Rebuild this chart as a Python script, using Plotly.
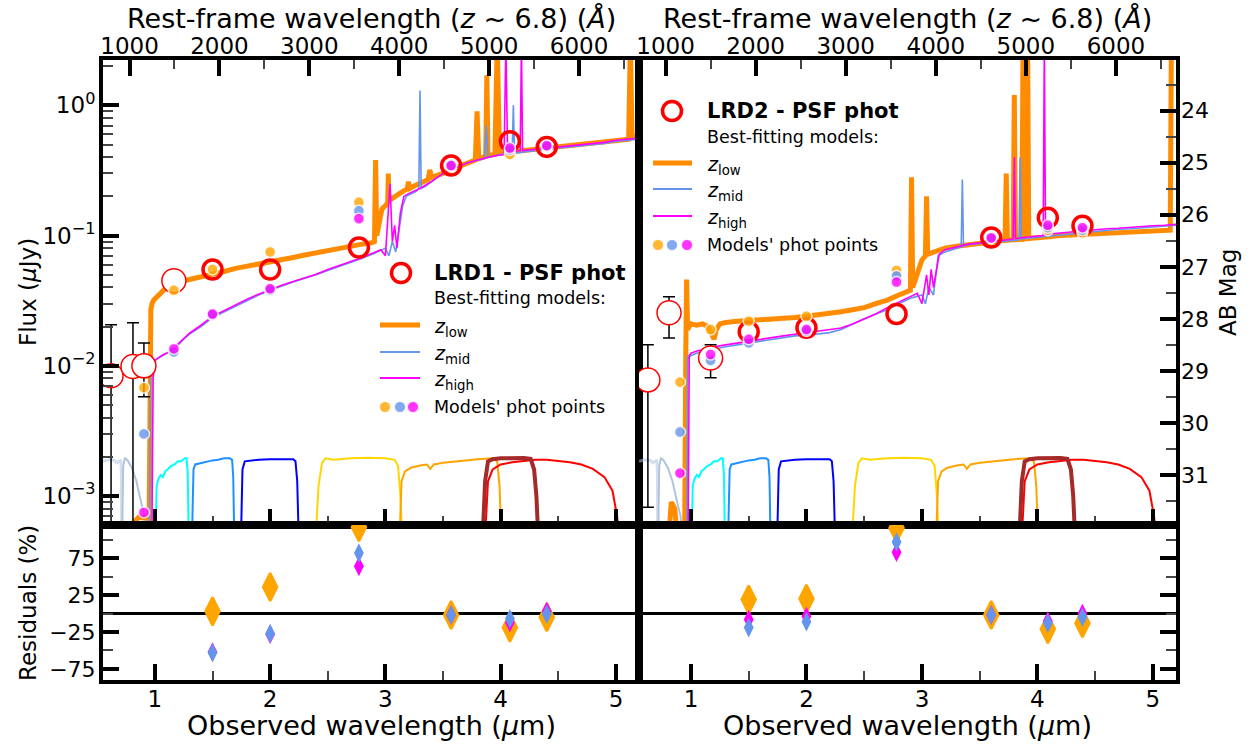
import plotly.graph_objects as go
import math

W, H = 1254, 748
Z_REF = 6.8
FONT = "DejaVu Sans"

# ---------------- data ----------------
# filter curves (same in both panels): wavelength (um), plotted level (uJy)
f070_wl = [0.55, 0.60, 0.65, 0.67, 0.69, 0.705, 0.71, 0.712]
f070_tr = [1.85e-3, 1.9e-3, 1.88e-3, 1.8e-3, 1.85e-3, 1.9e-3, 1.5e-3, 4e-4]
f090_wl = [0.715, 0.725, 0.74, 0.76, 0.80, 0.84, 0.88, 0.91, 0.935]
f090_tr = [4e-4, 1.7e-3, 1.95e-3, 1.9e-3, 1.65e-3, 1.3e-3, 9e-4, 7e-4, 4e-4]
f115_wl = [1.005, 1.015, 1.03, 1.05, 1.07, 1.09, 1.11, 1.14, 1.17, 1.20, 1.23, 1.26, 1.275, 1.285, 1.295]
f115_tr = [4e-4, 1.2e-3, 1.35e-3, 1.45e-3, 1.4e-3, 1.55e-3, 1.6e-3, 1.7e-3, 1.75e-3, 1.85e-3, 1.85e-3, 1.95e-3, 1.95e-3, 1.5e-3, 4e-4]
f150_wl = [1.32, 1.335, 1.35, 1.40, 1.45, 1.50, 1.55, 1.60, 1.65, 1.67, 1.68, 1.69]
f150_tr = [4e-4, 1.6e-3, 1.75e-3, 1.8e-3, 1.85e-3, 1.88e-3, 1.9e-3, 1.95e-3, 1.95e-3, 1.9e-3, 1.4e-3, 4e-4]
f200_wl = [1.745, 1.76, 1.78, 1.82, 1.9, 2.0, 2.1, 2.2, 2.22, 2.235, 2.25]
f200_tr = [4e-4, 1.6e-3, 1.85e-3, 1.87e-3, 1.9e-3, 1.92e-3, 1.93e-3, 1.92e-3, 1.85e-3, 1.3e-3, 4e-4]
f277_wl = [2.39, 2.42, 2.45, 2.48, 2.55, 2.7, 2.85, 3.0, 3.08, 3.11, 3.13, 3.15]
f277_tr = [4e-4, 1.2e-3, 1.8e-3, 1.95e-3, 1.9e-3, 1.95e-3, 1.97e-3, 1.95e-3, 1.9e-3, 1.7e-3, 1e-3, 4e-4]
f356_wl = [3.12, 3.14, 3.17, 3.22, 3.3, 3.36, 3.39, 3.42, 3.5, 3.65, 3.8, 3.93, 3.97, 3.99, 4.01]
f356_tr = [4e-4, 1.3e-3, 1.55e-3, 1.65e-3, 1.72e-3, 1.75e-3, 1.62e-3, 1.75e-3, 1.8e-3, 1.87e-3, 1.92e-3, 1.95e-3, 1.85e-3, 1.2e-3, 4e-4]
f410_wl = [3.84, 3.865, 3.89, 3.93, 4.0, 4.1, 4.2, 4.26, 4.29, 4.31, 4.33]
f410_tr = [4e-4, 1.3e-3, 1.85e-3, 1.92e-3, 1.95e-3, 1.96e-3, 1.96e-3, 1.93e-3, 1.6e-3, 1e-3, 4e-4]
f444_wl = [3.86, 3.89, 3.93, 4.0, 4.1, 4.2, 4.3, 4.4, 4.5, 4.6, 4.7, 4.8, 4.9, 4.97, 5.01, 5.04]
f444_tr = [4e-4, 1.3e-3, 1.6e-3, 1.75e-3, 1.82e-3, 1.87e-3, 1.9e-3, 1.9e-3, 1.87e-3, 1.82e-3, 1.75e-3, 1.62e-3, 1.4e-3, 1.1e-3, 7e-4, 4e-4]

# ---- LRD1 model spectra ----
lo1_wl = [0.82, 0.86, 0.90, 0.93, 0.95, 0.958, 0.965, 0.975, 0.99, 1.02, 1.06, 1.10, 1.15, 1.20, 1.30, 1.40,
          1.50, 1.60, 1.70, 1.80, 1.90, 2.00, 2.10, 2.20, 2.30, 2.40, 2.50, 2.60, 2.70, 2.80, 2.88, 2.905,
          2.915, 2.925, 2.95, 2.97, 3.00, 3.02, 3.025, 3.03, 3.05, 3.08, 3.12, 3.16, 3.19, 3.20, 3.21, 3.25,
          3.30, 3.37, 3.385, 3.40, 3.45, 3.50, 3.60, 3.70, 3.78, 3.795, 3.81, 3.85, 3.87, 3.88, 3.89, 3.95,
          3.97, 3.99, 4.00, 4.10, 4.20, 4.30, 4.40, 4.50, 4.60, 4.70, 4.80, 4.90, 5.00, 5.08, 5.11, 5.125,
          5.14, 5.20]
lo1_f = [6.3e-4, 6.9e-4, 6.8e-4, 6.9e-4, 6.4e-4, 0.015, 0.027, 0.030, 0.032, 0.034, 0.037, 0.040, 0.042,
         0.044, 0.046, 0.048, 0.050, 0.053, 0.056, 0.058, 0.060, 0.062, 0.065, 0.068, 0.071, 0.074, 0.077,
         0.080, 0.083, 0.086, 0.088, 0.09, 0.38, 0.10, 0.13, 0.16, 0.17, 0.18, 0.30, 0.19, 0.19, 0.2, 0.21,
         0.22, 0.23, 0.26, 0.23, 0.24, 0.25, 0.27, 0.32, 0.28, 0.29, 0.30, 0.33, 0.36, 0.38, 0.9, 0.39,
         0.40, 0.41, 1.7, 0.41, 0.42, 3.0, 0.43, 0.43, 0.44, 0.45, 0.46, 0.47, 0.48, 0.49, 0.50, 0.51, 0.52,
         0.53, 0.54, 0.55, 3.0, 0.57, 0.58]
mid1_wl = [0.955, 0.962, 0.968, 0.975, 0.985, 1.00, 1.03, 1.06, 1.10, 1.15, 1.20, 1.25, 1.30, 1.40, 1.50,
           1.60, 1.70, 1.80, 1.90, 2.00, 2.10, 2.20, 2.30, 2.40, 2.50, 2.60, 2.70, 2.80, 2.90, 2.95, 3.00,
           3.03, 3.06, 3.09, 3.12, 3.15, 3.18, 3.22, 3.27, 3.29, 3.30, 3.31, 3.35, 3.40, 3.50, 3.60, 3.70,
           3.80, 3.86, 3.875, 3.89, 3.95, 4.00, 4.10, 4.11, 4.12, 4.20, 4.30, 4.40, 4.50, 4.60, 4.70, 4.80,
           4.90, 5.00, 5.10, 5.20]
mid1_f = [6e-4, 0.012, 0.009, 0.011, 0.0105, 0.011, 0.0115, 0.012, 0.0125, 0.013, 0.0145, 0.016, 0.0175,
          0.0200, 0.0235, 0.026, 0.029, 0.032, 0.035, 0.038, 0.041, 0.044, 0.047, 0.050, 0.054, 0.058, 0.062,
          0.067, 0.073, 0.076, 0.08, 0.07, 0.09, 0.075, 0.11, 0.17, 0.20, 0.21, 0.22, 0.23, 1.3, 0.23, 0.24,
          0.26, 0.30, 0.33, 0.36, 0.38, 0.39, 0.7, 0.40, 0.41, 0.42, 0.43, 1.0, 0.43, 0.44, 0.45, 0.46, 0.47,
          0.48, 0.49, 0.50, 0.51, 0.53, 0.54, 0.55]
hi1_wl = [0.975, 0.985, 1.00, 1.03, 1.06, 1.10, 1.15, 1.20, 1.25, 1.30, 1.40, 1.50, 1.60, 1.70, 1.80, 1.90,
          2.00, 2.10, 2.20, 2.30, 2.40, 2.50, 2.60, 2.70, 2.80, 2.90, 2.96, 3.00, 3.04, 3.06, 3.08, 3.10,
          3.13, 3.16, 3.20, 3.30, 3.40, 3.50, 3.60, 3.70, 3.80, 3.90, 3.95, 4.03, 4.045, 4.06, 4.10, 4.17,
          4.18, 4.19, 4.30, 4.40, 4.50, 4.60, 4.70, 4.80, 4.90, 5.00, 5.10, 5.20]
hi1_f = [6e-4, 0.008, 0.011, 0.0115, 0.012, 0.0125, 0.0132, 0.0147, 0.0162, 0.0178, 0.0205, 0.024, 0.0265,
         0.0295, 0.0325, 0.0355, 0.0385, 0.0415, 0.0445, 0.0475, 0.0505, 0.055, 0.059, 0.063, 0.068, 0.074,
         0.078, 0.07, 0.25, 0.09, 0.12, 0.08, 0.15, 0.2, 0.21, 0.23, 0.26, 0.30, 0.33, 0.36, 0.38, 0.40,
         0.41, 0.42, 3.0, 0.43, 0.44, 0.45, 3.0, 0.45, 0.46, 0.47, 0.48, 0.49, 0.50, 0.51, 0.52, 0.54, 0.55, 0.56]

# ---- LRD2 model spectra ----
lo2_wl = [0.80, 0.83, 0.86, 0.88, 0.92, 0.945, 0.955, 0.962, 0.97, 0.985, 1.0, 1.05, 1.1, 1.15, 1.2, 1.22,
          1.25, 1.3, 1.4, 1.5, 1.6, 1.7, 1.8, 1.9, 2.0, 2.1, 2.2, 2.3, 2.4, 2.5, 2.6, 2.7, 2.8, 2.88, 2.9,
          2.91, 2.92, 2.94, 2.97, 3.0, 3.03, 3.04, 3.05, 3.1, 3.2, 3.3, 3.4, 3.5, 3.6, 3.7, 3.72, 3.73, 3.74,
          3.79, 3.80, 3.81, 3.865, 3.875, 3.885, 3.905, 3.915, 3.925, 4.0, 4.1, 4.2, 4.3, 4.4, 4.5, 4.6, 4.7,
          4.8, 4.9, 5.0, 5.1, 5.15, 5.16, 5.2]
lo2_f = [4e-4, 9e-4, 8e-4, 5e-4, 4e-4, 4e-4, 0.012, 0.046, 0.021, 0.02, 0.021, 0.0205, 0.021, 0.020, 0.016,
         0.019, 0.021, 0.0215, 0.022, 0.0222, 0.0225, 0.023, 0.0232, 0.0235, 0.024, 0.0245, 0.025, 0.026,
         0.027, 0.028, 0.030, 0.032, 0.035, 0.037, 0.038, 0.28, 0.04, 0.045, 0.055, 0.065, 0.07, 0.2, 0.072,
         0.075, 0.08, 0.083, 0.085, 0.088, 0.09, 0.091, 0.092, 0.3, 0.092, 0.093, 1.2, 0.093, 0.094, 2.5,
         0.094, 0.095, 3.0, 0.095, 0.097, 0.098, 0.1, 0.101, 0.102, 0.103, 0.104, 0.105, 0.106, 0.107,
         0.108, 0.109, 0.11, 3.0, 3.0]
mid2_wl = [0.965, 0.972, 0.98, 1.0, 1.05, 1.1, 1.15, 1.2, 1.3, 1.4, 1.5, 1.6, 1.7, 1.8, 1.9, 2.0, 2.1, 2.2,
           2.3, 2.4, 2.5, 2.6, 2.7, 2.8, 2.9, 2.95, 3.0, 3.03, 3.06, 3.1, 3.14, 3.2, 3.3, 3.34, 3.35, 3.36,
           3.4, 3.5, 3.6, 3.7, 3.8, 3.84, 3.85, 3.86, 3.9, 4.0, 4.1, 4.2, 4.3, 4.4, 4.5, 4.6, 4.7, 4.8, 4.9,
           5.0, 5.1, 5.2]
mid2_f = [4e-4, 0.012, 0.0115, 0.012, 0.0125, 0.013, 0.0132, 0.0135, 0.014, 0.0145, 0.015, 0.0155, 0.016,
          0.0165, 0.017, 0.0172, 0.0175, 0.018, 0.019, 0.021, 0.023, 0.025, 0.027, 0.030, 0.033, 0.034,
          0.035, 0.03, 0.04, 0.035, 0.07, 0.075, 0.08, 0.082, 0.27, 0.083, 0.085, 0.087, 0.089, 0.09, 0.092,
          0.093, 0.4, 0.094, 0.095, 0.097, 0.1, 0.102, 0.104, 0.106, 0.108, 0.11, 0.112, 0.113, 0.115,
          0.117, 0.118, 0.12]
hi2_wl = [0.975, 0.985, 1.0, 1.05, 1.1, 1.15, 1.2, 1.3, 1.4, 1.5, 1.6, 1.7, 1.8, 1.9, 2.0, 2.1, 2.2, 2.3,
          2.4, 2.5, 2.6, 2.7, 2.8, 2.9, 2.96, 3.0, 3.04, 3.06, 3.08, 3.1, 3.15, 3.2, 3.3, 3.4, 3.5, 3.6,
          3.7, 3.79, 3.80, 3.81, 3.9, 4.0, 4.05, 4.06, 4.07, 4.1, 4.2, 4.3, 4.4, 4.5, 4.6, 4.7, 4.8, 4.9,
          5.0, 5.1, 5.2]
hi2_f = [4e-4, 0.012, 0.0125, 0.013, 0.0133, 0.0137, 0.014, 0.0145, 0.015, 0.0155, 0.016, 0.0165, 0.017,
         0.0175, 0.018, 0.0185, 0.019, 0.0195, 0.021, 0.023, 0.025, 0.028, 0.031, 0.034, 0.036, 0.03,
         0.05, 0.035, 0.055, 0.04, 0.072, 0.078, 0.082, 0.086, 0.088, 0.09, 0.092, 0.094, 0.4, 0.095,
         0.097, 0.099, 0.1, 3.0, 0.101, 0.103, 0.105, 0.107, 0.109, 0.111, 0.113, 0.114, 0.116, 0.117,
         0.119, 0.12, 0.122]

# ---- observed photometry ----
obs1_wl = [0.62, 0.81, 0.905, 1.165, 1.50, 2.00, 2.77, 3.57, 4.08, 4.40]
obs1_f = [0.0084, 0.0099, 0.0100, 0.045, 0.055, 0.055, 0.081, 0.345, 0.53, 0.48]
obs1_eup = [0.0123, 0.0115, 0.005, 0.0, 0, 0, 0, 0, 0, 0]
obs1_edn = [0.0083, 0.0098, 0.0042, 0.0, 0, 0, 0, 0, 0, 0]
obs1_nthin = 4
obs2_wl = [0.627, 0.81, 1.17, 1.50, 2.00, 2.78, 3.60, 4.09, 4.39]
obs2_f = [0.0078, 0.0256, 0.0115, 0.0183, 0.0196, 0.025, 0.0966, 0.137, 0.119]
obs2_eup = [0.0067, 0.0084, 0.003, 0, 0, 0, 0, 0, 0]
obs2_edn = [0.00698, 0.0092, 0.0034, 0, 0, 0, 0, 0, 0]
obs2_nthin = 3

# ---- model photometry ----
mph_wl = [0.905, 1.165, 1.50, 2.00, 2.77, 3.57, 4.08, 4.40]
mph1_lo = [0.0068, 0.038, 0.055, 0.075, 0.18, 0.34, 0.42, 0.48]
mph1_mid = [0.0030, 0.0128, 0.0245, 0.038, 0.155, 0.345, 0.455, 0.485]
mph1_hi = [0.00075, 0.0135, 0.025, 0.039, 0.135, 0.345, 0.47, 0.49]
mph2_wl = [0.905, 1.17, 1.50, 2.00, 2.78, 3.60, 4.09, 4.39]
mph2_lo = [0.0075, 0.019, 0.022, 0.024, 0.054, 0.096, 0.11, 0.105]
mph2_mid = [0.0031, 0.011, 0.015, 0.0185, 0.049, 0.096, 0.115, 0.11]
mph2_hi = [0.0015, 0.0122, 0.016, 0.019, 0.044, 0.096, 0.12, 0.115]

# ---- residuals (%) ----
res_wl1 = [1.50, 2.00, 2.77, 3.57, 4.08, 4.40]
res1_lo = [3, 36, 117, -2, -19, -5]
res1_mid = [-53, -27, 82, -2, -7, -1]
res1_hi = [-52, -28, 64, -2, -12, 3]
res_wl2 = [1.50, 2.00, 2.78, 3.60, 4.09, 4.39]
res2_lo = [19, 20, 116, -2, -21, -13]
res2_mid = [-19, -11, 97, -2, -13, -5]
res2_hi = [-8, -4, 83, -2, -10, 0]

# axis settings
XRANGE = [0.55, 5.2]
YLOG = [math.log10(6e-4), math.log10(2.23)]
RRANGE = [-90, 120]

# ---------------- figure ----------------
ORANGE = "#ff8c00"
BLUE = "cornflowerblue"
MAG = "#ff00ff"
filters = [
    (f070_wl, f070_tr, "rgba(176,196,222,0.55)", 3),
    (f090_wl, f090_tr, "lightsteelblue", 2),
    (f115_wl, f115_tr, "cyan", 2),
    (f150_wl, f150_tr, "dodgerblue", 2),
    (f200_wl, f200_tr, "blue", 2),
    (f277_wl, f277_tr, "gold", 2),
    (f356_wl, f356_tr, "orange", 2),
    (f444_wl, f444_tr, "red", 2),
    (f410_wl, f410_tr, "brown", 4),
]

fig = go.Figure()


def add_panel(xa, ya, xr, yr, specs, obs, mph, res):
    for wl, tr, col, lw in filters:
        fig.add_trace(go.Scatter(x=wl, y=tr, mode="lines", line=dict(color=col, width=lw),
                                 xaxis=xa, yaxis=ya, showlegend=False, hoverinfo="skip"))
    for (wl, fl), col, lw in zip(specs, [ORANGE, BLUE, MAG], [5, 1.6, 1.6]):
        fig.add_trace(go.Scatter(x=wl, y=fl, mode="lines", line=dict(color=col, width=lw),
                                 xaxis=xa, yaxis=ya, showlegend=False, hoverinfo="skip"))
    owl, of, eup, edn, nthin = obs
    fig.add_trace(go.Scatter(
        x=owl[:nthin], y=of[:nthin], mode="markers", xaxis=xa, yaxis=ya, showlegend=False,
        error_y=dict(type="data", symmetric=False, array=eup[:nthin], arrayminus=edn[:nthin],
                     color="black", thickness=1.5, width=6),
        marker=dict(symbol="circle", size=24, color="white", line=dict(color="red", width=1.5))))
    fig.add_trace(go.Scatter(
        x=owl[nthin:], y=of[nthin:], mode="markers", xaxis=xa, yaxis=ya, showlegend=False,
        marker=dict(symbol="circle", size=19, color="rgba(0,0,0,0)", line=dict(color="red", width=3.5))))
    mwl, mlo, mmid, mhi = mph
    for vals, col in zip([mlo, mmid, mhi], ["rgba(255,165,0,0.8)", "rgba(100,149,237,0.8)", "rgba(255,0,255,0.8)"]):
        fig.add_trace(go.Scatter(x=mwl, y=vals, mode="markers", xaxis=xa, yaxis=ya, showlegend=False,
                                 marker=dict(size=11, color=col, line=dict(color="rgba(255,255,255,0.8)", width=1.5))))
    rwl, rlo, rmid, rhi = res
    fig.add_trace(go.Scatter(x=rwl, y=rlo, mode="markers", xaxis=xr, yaxis=yr, showlegend=False,
                             marker=dict(symbol="diamond-tall", size=20, color="orange", line=dict(color="orange", width=2.5))))
    fig.add_trace(go.Scatter(x=rwl, y=rhi, mode="markers", xaxis=xr, yaxis=yr, showlegend=False,
                             marker=dict(symbol="diamond-tall", size=14, color=MAG, line=dict(width=0))))
    fig.add_trace(go.Scatter(x=rwl, y=rmid, mode="markers", xaxis=xr, yaxis=yr, showlegend=False,
                             marker=dict(symbol="diamond-tall", size=14, color=BLUE, line=dict(width=0))))


add_panel("x", "y", "x2", "y2",
          [(lo1_wl, lo1_f), (mid1_wl, mid1_f), (hi1_wl, hi1_f)],
          (obs1_wl, obs1_f, obs1_eup, obs1_edn, obs1_nthin),
          (mph_wl, mph1_lo, mph1_mid, mph1_hi),
          (res_wl1, res1_lo, res1_mid, res1_hi))
add_panel("x3", "y3", "x4", "y4",
          [(lo2_wl, lo2_f), (mid2_wl, mid2_f), (hi2_wl, hi2_f)],
          (obs2_wl, obs2_f, obs2_eup, obs2_edn, obs2_nthin),
          (mph2_wl, mph2_lo, mph2_mid, mph2_hi),
          (res_wl2, res2_lo, res2_mid, res2_hi))

rest_range = [XRANGE[0] * 1e4 / (1 + Z_REF), XRANGE[1] * 1e4 / (1 + Z_REF)]
mag_range = [23.9 - 2.5 * YLOG[0], 23.9 - 2.5 * YLOG[1]]
# invisible anchors so the secondary axes render
fig.add_trace(go.Scatter(x=rest_range, y=[1e-2, 1e-2], xaxis="x5", yaxis="y", mode="markers",
                         marker=dict(opacity=0), showlegend=False, hoverinfo="skip"))
fig.add_trace(go.Scatter(x=rest_range, y=[1e-2, 1e-2], xaxis="x6", yaxis="y3", mode="markers",
                         marker=dict(opacity=0), showlegend=False, hoverinfo="skip"))
fig.add_trace(go.Scatter(x=[1, 2], y=[28, 28], xaxis="x3", yaxis="y5", mode="markers",
                         marker=dict(opacity=0), showlegend=False, hoverinfo="skip"))

px = lambda v: v / W
py = lambda v: 1 - v / H
xL = [px(103), px(639)]
xR = [px(639), px(1176)]
yT = [py(525), py(60)]
yB = [py(680), py(525)]

TF = dict(family=FONT, size=23, color="black")
major = dict(ticks="inside", ticklen=16, tickwidth=3.5, tickcolor="black")
minor_x = dict(ticks="inside", ticklen=9, tickwidth=1.5, tickcolor="#444", tickvals=[1.5, 2.5, 3.5, 4.5])
base = dict(showline=True, linewidth=4, linecolor="black", mirror=True, showgrid=False, zeroline=False,
            tickfont=TF, automargin=False)

xcommon = dict(base, range=XRANGE, tickvals=[1, 2, 3, 4, 5], minor=minor_x, ticklabelstandoff=-5, **major)
fig.update_layout(
    xaxis=dict(xcommon, domain=xL, anchor="y", showticklabels=False),
    xaxis2=dict(xcommon, domain=xL, anchor="y2", matches="x"),
    xaxis3=dict(xcommon, domain=xR, anchor="y3", showticklabels=False),
    xaxis4=dict(xcommon, domain=xR, anchor="y4", matches="x3"),
)
restax = dict(showline=False, showgrid=False, zeroline=False, side="top", range=rest_range,
              tickvals=[1000, 2000, 3000, 4000, 5000, 6000], tickfont=TF, ticklabelstandoff=0,
              automargin=False,
              minor=dict(ticks="inside", ticklen=9, tickwidth=1.5, tickcolor="#444",
                         tickvals=[1500, 2500, 3500, 4500, 5500, 6500]), **major)
fig.update_layout(
    xaxis5=dict(restax, overlaying="x", anchor="y"),
    xaxis6=dict(restax, overlaying="x3", anchor="y3"),
)
logminor = [m * 10 ** e for e in (-4, -3, -2, -1, 0) for m in range(2, 10)]
fig.update_layout(
    yaxis=dict(base, domain=yT, anchor="x", type="log", range=YLOG, ticklabelstandoff=-1,
               tickvals=[1e-3, 1e-2, 1e-1, 1],
               ticktext=["10<sup>−3</sup>", "10<sup>−2</sup>", "10<sup>−1</sup>", "10<sup>0</sup>"],
               minor=dict(ticks="inside", ticklen=10, tickwidth=1.5, tickcolor="#444", tickvals=logminor),
               **major),
    yaxis3=dict(base, domain=yT, anchor="x3", type="log", range=YLOG, ticks="", showticklabels=False),
    yaxis5=dict(showline=False, showgrid=False, zeroline=False, overlaying="y3", side="right", anchor="x3",
                range=mag_range, tickvals=list(range(24, 32)), tickfont=dict(TF, size=22), ticklabelstandoff=4,
                automargin=False,
                minor=dict(ticks="inside", ticklen=10, tickwidth=1.5, tickcolor="#444",
                           tickvals=[23.5 + k for k in range(9)]), **major),
)
resminor = dict(ticks="inside", ticklen=10, tickwidth=1.5, tickcolor="#444", tickvals=[-50, 0, 50, 100])
fig.update_layout(
    yaxis2=dict(base, domain=yB, anchor="x2", range=RRANGE, tickvals=[-75, -25, 25, 75], ticklabelstandoff=-1,
                tickfont=dict(TF, size=22),
                ticktext=["−75", "−25", "25", "75"], minor=resminor, **major),
    yaxis4=dict(base, domain=yB, anchor="x4", range=RRANGE, side="right", tickvals=[-75, -25, 25, 75],
                showticklabels=False, minor=resminor, **major),
)

shapes = []
for xr_, yr_ in (("x2", "y2"), ("x4", "y4")):
    shapes.append(dict(type="line", xref=f"{xr_} domain", x0=0, x1=1, yref=yr_, y0=0, y1=0,
                       line=dict(color="black", width=3), layer="below"))

annotations = []


def text(xp, yp, s, size, anchor="left", angle=0, bold=False):
    annotations.append(dict(x=px(xp), y=py(yp), xref="paper", yref="paper", text=(f"<b>{s}</b>" if bold else s),
                            showarrow=False, xanchor=anchor, yanchor="middle", textangle=angle,
                            font=dict(family=FONT, size=size, color="black")))


text(28, 292, "Flux (<i>μ</i>Jy)", 23, "center", -90)
text(28, 603, "Residuals (%)", 23, "center", -90)
text(1228, 293, "AB Mag", 23, "center", -90)
for cx in (371, 907):
    text(cx, 725, "Observed wavelength (<i>μ</i>m)", 27, "center")
    text(cx, 19, "Rest-frame wavelength (<i>z</i> ~ 6.8) (<i>Å</i>)", 27, "center")


def legend(cx, tx, ys, lx0, lx1, dots_x, label):
    yc, yb, yl, ym, yh, yd = ys
    shapes.append(dict(type="circle", xref="paper", yref="paper", xsizemode="pixel", ysizemode="pixel",
                       xanchor=px(cx), yanchor=py(yc), x0=-9.5, x1=9.5, y0=-9.5, y1=9.5,
                       line=dict(color="red", width=3.5)))
    text(tx, yc, label, 21, bold=True)
    text(tx, yb, "Best-fitting models:", 17.5)
    for yy, col, lw, lab in ((yl, ORANGE, 5, "low"), (ym, BLUE, 2, "mid"), (yh, MAG, 2, "high")):
        shapes.append(dict(type="line", xref="paper", yref="paper", x0=px(lx0), x1=px(lx1), y0=py(yy), y1=py(yy),
                           line=dict(color=col, width=lw)))
        text(tx, yy + 2, f"<i>z</i><sub>{lab}</sub>", 19)
    for dx, col in zip(dots_x, ["rgba(255,165,0,0.8)", "rgba(100,149,237,0.8)", "rgba(255,0,255,0.8)"]):
        shapes.append(dict(type="circle", xref="paper", yref="paper", xsizemode="pixel", ysizemode="pixel",
                           xanchor=px(dx), yanchor=py(yd), x0=-5.5, x1=5.5, y0=-5.5, y1=5.5,
                           fillcolor=col, line=dict(color="rgba(255,255,255,0.8)", width=1)))
    text(tx, yd, "Models' phot points", 17.5)


legend(401, 432, (273, 298, 325, 352, 378, 407), 380, 420, (385, 400, 413), "LRD1 - PSF phot")
legend(672, 705, (111, 137, 163, 189, 216, 245), 653, 692, (658, 672, 687), "LRD2 - PSF phot")

fig.update_layout(width=W, height=H, autosize=False, margin=dict(l=0, r=0, t=0, b=0),
                  paper_bgcolor="white", plot_bgcolor="white", showlegend=False,
                  shapes=shapes, annotations=annotations, font=dict(family=FONT, color="black"))
# the page body has a default 8px margin; remove it so the figure sits at the window origin
fig.write_html("out.html", config={"displayModeBar": False},
               post_script="document.body.style.margin='0px';")
